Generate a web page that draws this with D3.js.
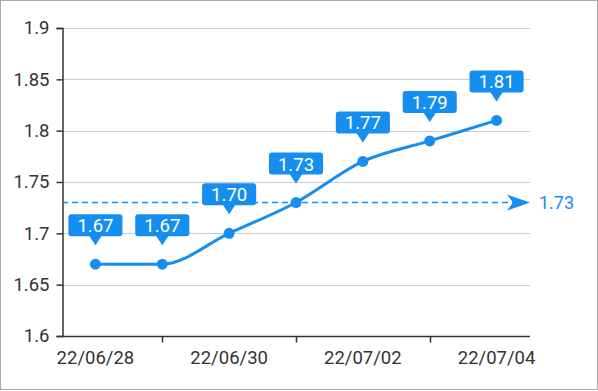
<!DOCTYPE html>
<html><head><meta charset="utf-8">
<script src="https://cdn.jsdelivr.net/npm/d3@7"></script>
<style>html,body{margin:0;padding:0;background:#fff;}svg{display:block;font-family:Roboto,"Noto Sans",sans-serif;}</style>
</head><body>
<svg id="c" width="598" height="391"></svg>
<script>
const categories = ["22/06/28","22/06/29","22/06/30","22/07/01","22/07/02","22/07/03","22/07/04"];
const values = [1.67, 1.67, 1.70, 1.73, 1.77, 1.79, 1.81];
const labelTexts = ["1.67","1.67","1.70","1.73","1.77","1.79","1.81"];
const yTicks = [1.6, 1.65, 1.7, 1.75, 1.8, 1.85, 1.9];
const yTickLabels = ["1.6","1.65","1.7","1.75","1.8","1.85","1.9"];
const averageValue = 1.73;
const averageLabel = "1.73";

const blue = "#168ef0";
const svg = d3.select("#c");
svg.append("rect").attr("x",0.5).attr("y",0.5).attr("width",597).attr("height",389)
  .attr("fill","#fff").attr("stroke","#aaa").attr("stroke-width",1);

const x = d3.scaleBand().domain(categories).range([62,530]).padding(0);
const y = d3.scaleLinear().domain([1.6,1.9]).range([336,28]);
const cx = d => x(d) + x.bandwidth()/2;

// grid
svg.append("g").selectAll("line").data(yTicks.slice(1)).join("line")
  .attr("x1",62).attr("x2",530).attr("y1",d=>Math.round(y(d))+0.5).attr("y2",d=>Math.round(y(d))+0.5)
  .attr("stroke","#cccccc").attr("stroke-width",1);

// y axis
const yAxis = d3.axisLeft(y).tickValues(yTicks).tickSize(6).tickPadding(7)
  .tickFormat((d,i)=>yTickLabels[i]);
const gy = svg.append("g").attr("transform","translate(62.5,0)").call(yAxis);
gy.select(".domain").attr("stroke","#333").attr("stroke-width",1.5);
gy.selectAll(".tick line").attr("stroke","#333").attr("stroke-width",1.5);
gy.selectAll(".tick text").attr("font-size",18.5).attr("fill","#333").attr("font-family","Roboto");

// x axis
const gx = svg.append("g").attr("transform","translate(0,336.5)");
gx.append("line").attr("x1",62).attr("x2",530).attr("stroke","#333").attr("stroke-width",1.5);
gx.selectAll("line.t").data(categories.filter((d,i)=>i%2===1)).join("line").attr("class","t")
  .attr("x1",d=>Math.round(cx(d))+0.5).attr("x2",d=>Math.round(cx(d))+0.5).attr("y1",0).attr("y2",6)
  .attr("stroke","#333").attr("stroke-width",1.5);
gx.selectAll("text").data(categories.filter((d,i)=>i%2===0)).join("text")
  .attr("x",d=>cx(d)).attr("y",27).attr("text-anchor","middle")
  .attr("font-size",18.5).attr("fill","#333").text(d=>d);

// average mark line
const ay = y(averageValue);
svg.append("line").attr("x1",62).attr("x2",516).attr("y1",ay).attr("y2",ay)
  .attr("stroke",blue).attr("stroke-width",1.5).attr("stroke-dasharray","6,4");
svg.append("path").attr("d",`M530,${ay} L507,${ay-8} L513,${ay} L507,${ay+8} Z`).attr("fill",blue);
svg.append("text").attr("x",539).attr("y",ay+6.5).attr("font-size",18).attr("fill",blue).text(averageLabel);

// line
const line = d3.line().x((d,i)=>cx(categories[i])).y(d=>y(d)).curve(d3.curveMonotoneX);
svg.append("path").attr("d",line(values)).attr("fill","none").attr("stroke",blue).attr("stroke-width",3);
svg.append("g").selectAll("circle").data(values).join("circle")
  .attr("cx",(d,i)=>cx(categories[i])).attr("cy",d=>y(d)).attr("r",5.5).attr("fill",blue);

// data labels
const lg = svg.append("g").selectAll("g").data(values).join("g")
  .attr("transform",(d,i)=>`translate(${cx(categories[i])},${y(d)})`);
lg.each(function(d,i){
  const g = d3.select(this);
  const t = g.append("text").attr("x",0).attr("y",-32).attr("text-anchor","middle")
    .attr("font-size",18.5).attr("fill","#fff").text(labelTexts[i]);
  const w = t.node().getComputedTextLength() + 18;
  g.insert("path","text").attr("d",
    `M${-w/2+3},-50 H${w/2-3} Q${w/2},-50 ${w/2},-47 V-31 Q${w/2},-28 ${w/2-3},-28 H6 L0,-19 L-6,-28 H${-w/2+3} Q${-w/2},-28 ${-w/2},-31 V-47 Q${-w/2},-50 ${-w/2+3},-50 Z`)
    .attr("fill",blue);
});
</script>
</body></html>
